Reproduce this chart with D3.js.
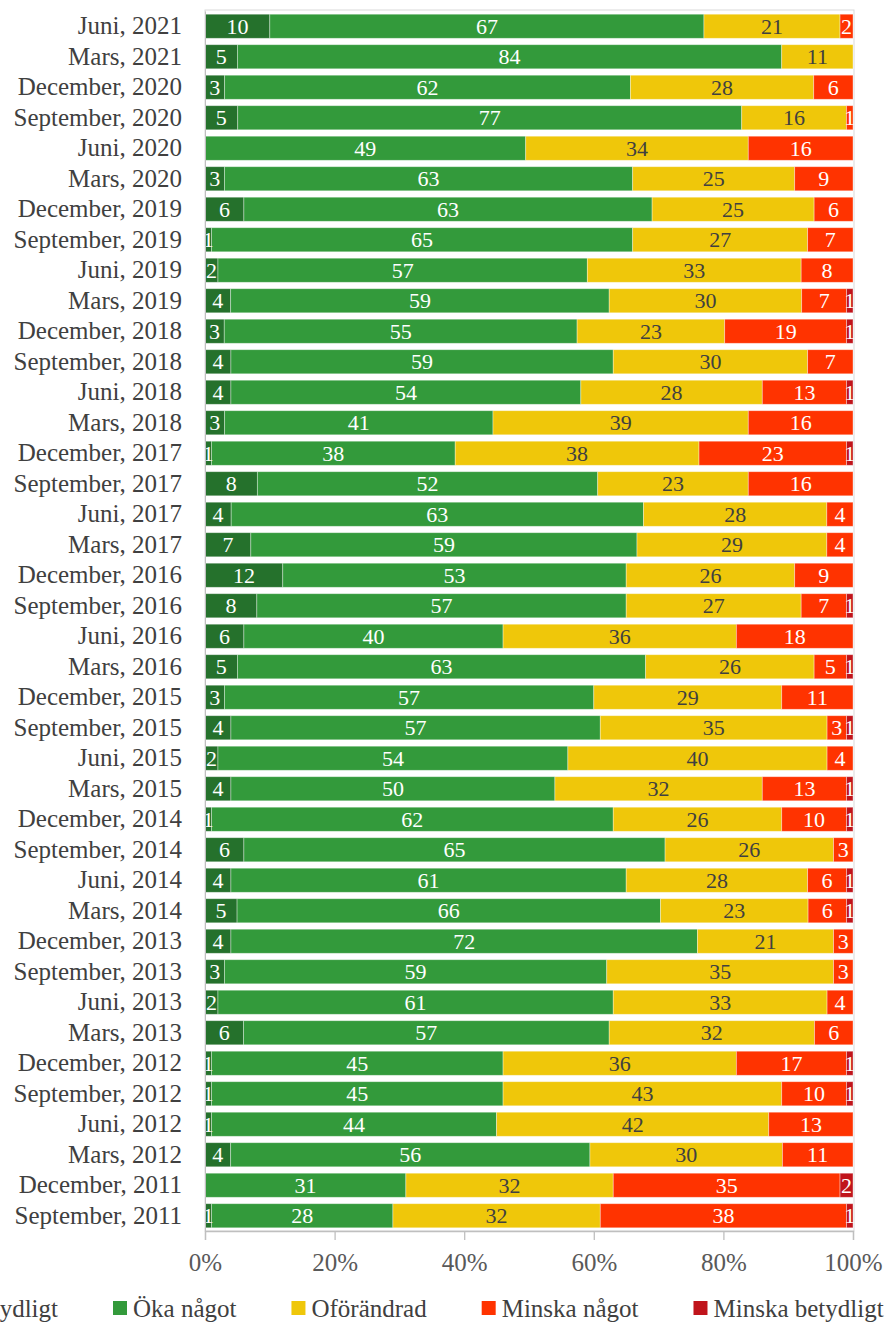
<!DOCTYPE html>
<html>
<head>
<meta charset="utf-8">
<script src="https://cdnjs.cloudflare.com/ajax/libs/d3/7.8.5/d3.min.js"></script>
<style>
  html, body { margin: 0; padding: 0; background: #fff; }
  svg { display: block; }
  svg text { font-family: 'Liberation Serif', 'Times New Roman', serif !important; }
</style>
</head>
<body>
<svg id="chart" width="891" height="1322"></svg>
<script>
const categories = [
  "Juni, 2021","Mars, 2021","December, 2020","September, 2020","Juni, 2020","Mars, 2020",
  "December, 2019","September, 2019","Juni, 2019","Mars, 2019","December, 2018","September, 2018",
  "Juni, 2018","Mars, 2018","December, 2017","September, 2017","Juni, 2017","Mars, 2017",
  "December, 2016","September, 2016","Juni, 2016","Mars, 2016","December, 2015","September, 2015",
  "Juni, 2015","Mars, 2015","December, 2014","September, 2014","Juni, 2014","Mars, 2014",
  "December, 2013","September, 2013","Juni, 2013","Mars, 2013","December, 2012","September, 2012",
  "Juni, 2012","Mars, 2012","December, 2011","September, 2011"
];
const seriesNames = ["Öka betydligt","Öka något","Oförändrad","Minska något","Minska betydligt"];
const okaBetydligt    = [10,5,3,5,0,3, 6,1,2,4,3,4, 4,3,1,8,4,7, 12,8,6,5,3,4, 2,4,1,6,4,5, 4,3,2,6,1,1, 1,4,0,1];
const okaNagot        = [67,84,62,77,49,63, 63,65,57,59,55,59, 54,41,38,52,63,59, 53,57,40,63,57,57, 54,50,62,65,61,66, 72,59,61,57,45,45, 44,56,31,28];
const oforandrad      = [21,11,28,16,34,25, 25,27,33,30,23,30, 28,39,38,23,28,29, 26,27,36,26,29,35, 40,32,26,26,28,23, 21,35,33,32,36,43, 42,30,32,32];
const minskaNagot     = [2,0,6,1,16,9, 6,7,8,7,19,7, 13,16,23,16,4,4, 9,7,18,5,11,3, 4,13,10,3,6,6, 3,3,4,6,17,10, 13,11,35,38];
const minskaBetydligt = [0,0,0,0,0,0, 0,0,0,1,1,0, 1,0,1,0,0,0, 0,1,0,1,0,1, 0,1,1,0,1,1, 0,0,0,0,1,1, 0,0,2,1];
const tickValues = [0, 0.2, 0.4, 0.6, 0.8, 1.0];

const colors = ["#25712c", "#339a3b", "#efc70a", "#ff3300", "#c0141b"];
const labelColors = ["#ffffff", "#ffffff", "#404040", "#ffffff", "#ffffff"];
const seriesData = [okaBetydligt, okaNagot, oforandrad, minskaNagot, minskaBetydligt];

const rows = categories.map((c, i) => {
  const o = { cat: c };
  seriesNames.forEach((s, j) => o[s] = seriesData[j][i]);
  return o;
});

const stack = d3.stack().keys(seriesNames).offset(d3.stackOffsetExpand);
const stacked = stack(rows);

const svg = d3.select("#chart");
const plotL = 205, plotR = 853, plotT = 11, plotB = 1231;
const FONT = "'Liberation Serif', 'Times New Roman', serif";

const x = d3.scaleLinear().domain([0, 1]).range([plotL, plotR]);
const y = d3.scaleBand().domain(categories).range([plotT, plotB]).paddingInner(0.21).paddingOuter(0.105);

// plot frame
svg.append("rect")
  .attr("x", plotL).attr("y", plotT - 1)
  .attr("width", plotR - plotL + 1).attr("height", plotB - plotT + 1)
  .attr("fill", "none").attr("stroke", "#d9d9d9").attr("stroke-width", 1);

// bars
const g = svg.append("g");
stacked.forEach((layer, j) => {
  g.append("g").selectAll("rect")
    .data(layer)
    .join("rect")
    .attr("x", d => x(d[0]))
    .attr("y", d => y(d.data.cat))
    .attr("width", d => Math.max(0, x(d[1]) - x(d[0])))
    .attr("height", y.bandwidth())
    .attr("fill", colors[j])
    .attr("stroke", "#ffffff").attr("stroke-opacity", 0.45).attr("stroke-width", 0.8);
});

// value labels
stacked.forEach((layer, j) => {
  g.append("g").selectAll("text")
    .data(layer.filter(d => d.data[seriesNames[j]] > 0))
    .join("text")
    .attr("x", d => (x(d[0]) + x(d[1])) / 2)
    .attr("y", d => y(d.data.cat) + y.bandwidth() / 2)
    .attr("dy", "0.35em")
    .attr("text-anchor", "middle")
    .style("font-family", FONT)
    .style("font-size", "22px")
    .attr("fill", labelColors[j])
    .text(d => d.data[seriesNames[j]]);
});

// y axis (category labels)
const yAxis = svg.append("g").attr("transform", `translate(${plotL},0)`)
  .call(d3.axisLeft(y).tickSize(0).tickPadding(23));
yAxis.attr("font-family", null);
yAxis.select(".domain").attr("stroke", "#bfbfbf");
yAxis.selectAll("text").style("font-size", "25px").attr("fill", "#404040")
  .style("font-family", FONT);

// x axis
const xAxis = svg.append("g").attr("transform", `translate(0,${plotB})`)
  .call(d3.axisBottom(x).tickValues(tickValues).tickFormat(d3.format(".0%")).tickSize(9).tickPadding(13));
xAxis.attr("font-family", null);
xAxis.select(".domain").attr("stroke", "#bfbfbf").attr("stroke-width", 1.3);
xAxis.selectAll(".tick line").attr("stroke", "#bfbfbf").attr("stroke-width", 1.3);
xAxis.selectAll("text").style("font-size", "25px").attr("fill", "#595959")
  .style("font-family", FONT);

// legend
const legend = svg.append("g").attr("fill", "#404040");
const legendY = 1308;
const items = seriesNames.map((s, j) => {
  const t = legend.append("text").attr("y", legendY).attr("dy", "0.35em")
    .style("font-family", FONT).style("font-size", "25px").text(s);
  return { t, w: t.node().getComputedTextLength(), j };
});
const sq = 14, gapA = 6, gapB = 55;
let startX = 113 - (sq + gapA + items[0].w + gapB);
items.forEach(it => {
  legend.append("rect").attr("x", startX).attr("y", legendY - sq / 2)
    .attr("width", sq).attr("height", sq).attr("fill", colors[it.j]);
  it.t.attr("x", startX + sq + gapA);
  startX += sq + gapA + it.w + gapB;
});
</script>
</body>
</html>
